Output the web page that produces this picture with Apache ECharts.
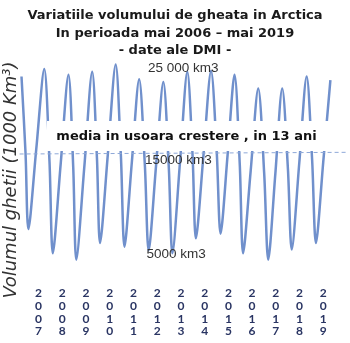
<!DOCTYPE html>
<html><head><meta charset="utf-8">
<script src="https://cdn.jsdelivr.net/npm/echarts@6/dist/echarts.min.js"></script>
<style>html,body{margin:0;padding:0;background:#fff}#c{width:350px;height:343px}</style>
</head><body><div id="c"></div>
<script>
// Tick labels (years)
const yearTicks = ['2007','2008','2009','2010','2011','2012','2013','2014','2015','2016','2017','2018','2019'];
// Time (decimal year) of each read point
const times = [
  2006.28, 2006.45, 2006.57, 2006.90, 2007.24, 2007.46, 2007.60, 2007.93,
  2008.26, 2008.46, 2008.59, 2008.93, 2009.26, 2009.46, 2009.59, 2009.92,
  2010.25, 2010.47, 2010.62, 2010.93, 2011.24, 2011.48, 2011.64, 2011.95,
  2012.26, 2012.49, 2012.64, 2012.96, 2013.27, 2013.49, 2013.63, 2013.95,
  2014.27, 2014.51, 2014.67, 2014.97, 2015.26, 2015.48, 2015.62, 2015.94,
  2016.26, 2016.51, 2016.68, 2016.98, 2017.27, 2017.51, 2017.67, 2017.99,
  2018.30, 2018.53, 2018.69, 2019.00, 2019.30
];
// Ice volume (thousand km3)
const volumes = [
  24.3, 16.0, 7.8, 16.4, 25.1, 15.1, 5.2, 14.8,
  24.5, 14.5, 4.5, 14.6, 24.8, 15.5, 6.3, 15.9,
  25.6, 15.7, 5.9, 15.0, 24.0, 14.7, 5.5, 14.6,
  23.7, 14.4, 5.2, 15.0, 24.8, 15.8, 6.8, 15.8,
  24.9, 16.1, 7.3, 15.9, 24.5, 14.8, 5.2, 14.1,
  23.0, 13.8, 4.5, 13.8, 23.0, 14.3, 5.6, 15.0,
  24.3, 15.3, 6.3, 15.1, 23.9
];
// Mean trend line endpoints [year, volume]
const meanStart = [2006.2, 15.92];
const meanEnd = [2020, 16.1];
// Level annotation texts
const levelLabels = ['25 000 km3', '15000 km3', '5000 km3'];
const titleLines = ['Variatiile volumului de gheata in Arctica', 'In perioada mai 2006 \u2013 mai 2019', '- date ale DMI -'];
const trendText = 'media in usoara crestere , in 13 ani';
const yTitle = 'Volumul ghetii (1000 Km\u00b3)';

const chart = echarts.init(document.getElementById('c'), null, {renderer: 'canvas'});
const data = times.map((t, i) => [t, volumes[i]]);

chart.setOption({
  animation: false,
  backgroundColor: '#ffffff',
  title: {
    text: titleLines.join('\n'),
    left: 'center',
    top: 2,
    textStyle: {fontFamily: 'DejaVu Sans', fontSize: 13, fontWeight: 'bold', color: '#1a1a1a', lineHeight: 17.5}
  },
  grid: {left: 14.86, width: 351.96, top: 42.25, height: 240.5},
  xAxis: {
    type: 'value', min: 2006, max: 2020, interval: 1,
    axisLine: {show: false}, axisTick: {show: false}, splitLine: {show: false},
    axisLabel: {
      margin: 4,
      fontFamily: 'Lato', fontSize: 12, fontWeight: 'bold', color: '#2a3563', lineHeight: 12.8,
      formatter: v => { const s = String(Math.round(v)); return yearTicks.includes(s) ? s.split('').join('\n') : ''; }
    }
  },
  yAxis: {type: 'value', min: 2, max: 28, show: false},
  series: [{
    type: 'line', data: data, smooth: 0.3, showSymbol: false,
    lineStyle: {color: '#7090cc', width: 2.5},
    markLine: {
      silent: true, symbol: 'none', label: {show: false},
      lineStyle: {color: '#8fa9d9', type: [4, 3], width: 1},
      data: [[{coord: meanStart}, {coord: meanEnd}]]
    }
  }],
  graphic: [
    {type: 'rect', z: 100, shape: {x: 47, y: 121, width: 288, height: 30}, style: {fill: '#ffffff'}},
    {type: 'text', z: 101, x: 186.5, y: 137, style: {text: trendText, fill: '#111', font: 'bold 13px "DejaVu Sans"', textAlign: 'center', textVerticalAlign: 'middle'}},
    {type: 'text', z: 101, x: 148, y: 68.5, style: {text: levelLabels[0], fill: '#333', font: '13.5px "Liberation Sans"', textAlign: 'left', textVerticalAlign: 'middle'}},
    {type: 'text', z: 101, x: 145, y: 160, style: {text: levelLabels[1], fill: '#333', font: '13.5px "Liberation Sans"', textAlign: 'left', textVerticalAlign: 'middle'}},
    {type: 'text', z: 101, x: 146.5, y: 254, style: {text: levelLabels[2], fill: '#333', font: '13.5px "Liberation Sans"', textAlign: 'left', textVerticalAlign: 'middle'}},
    {type: 'text', z: 101, x: 11.5, y: 180, rotation: Math.PI / 2, style: {text: yTitle, fill: '#333', font: 'italic 18px "DejaVu Sans"', textAlign: 'center', textVerticalAlign: 'middle'}}
  ]
});
</script></body></html>
